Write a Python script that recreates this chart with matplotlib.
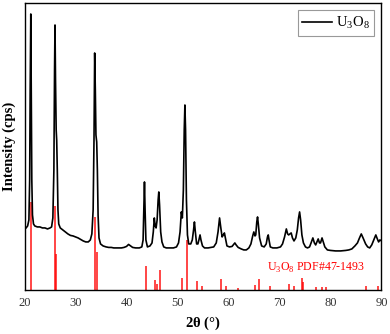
import matplotlib
matplotlib.use('Agg')
import matplotlib.pyplot as plt

# *********************************************
# Data
# *********************************************
two_theta = [20.0, 20.3, 20.6, 20.85, 21.0, 21.1, 21.22, 21.32, 21.42, 21.55, 21.75,
             22.0, 22.5, 23.0, 23.5, 24.0, 24.5, 25.0, 25.3, 25.55, 25.75, 25.88, 25.97,
             26.07, 26.2, 26.3, 26.42, 26.55, 26.7, 27.0, 27.5, 28.0, 28.5, 29.0, 29.5,
             30.0, 30.5, 31.0, 31.5, 32.0, 32.5, 32.9, 33.2, 33.45, 33.62, 33.75, 33.88,
             34.0, 34.15, 34.28, 34.42, 34.6, 34.9, 35.4, 36.0, 36.5, 37.0, 37.5, 38.0,
             38.5, 39.0, 39.5, 40.0, 40.4, 40.8, 41.2, 41.8, 42.5, 43.0, 43.25, 43.4,
             43.52, 43.64, 43.8, 44.1, 44.6, 45.0, 45.25, 45.45, 45.62, 45.8, 46.0, 46.2,
             46.33, 46.48, 46.7, 46.95, 47.3, 47.8, 48.5, 49.2, 49.8, 50.2, 50.5, 50.75,
             50.95, 51.15, 51.32, 51.45, 51.58, 51.75, 51.95, 52.2, 52.6, 52.9, 53.15,
             53.32, 53.5, 53.75, 54.0, 54.2, 54.42, 54.6, 54.9, 55.3, 56.0, 56.6, 57.1,
             57.6, 57.95, 58.25, 58.5, 58.75, 59.0, 59.2, 59.4, 59.7, 60.2, 60.7, 61.0,
             61.25, 61.5, 61.9, 62.5, 63.0, 63.5, 64.0, 64.4, 64.75, 64.97, 65.2, 65.35,
             65.55, 65.7, 65.85, 66.1, 66.5, 67.0, 67.4, 67.65, 67.8, 67.95, 68.2, 68.7,
             69.5, 70.2, 70.6, 71.0, 71.35, 71.6, 71.8, 72.05, 72.3, 72.55, 72.85, 73.2,
             73.5, 73.75, 73.95, 74.15, 74.4, 74.7, 75.1, 75.5, 75.9, 76.2, 76.55, 76.85,
             77.1, 77.35, 77.6, 77.85, 78.05, 78.35, 78.6, 78.9, 79.4, 80.0, 81.0, 82.0,
             83.0, 83.6, 84.2, 84.8, 85.3, 85.7, 86.05, 86.4, 86.9, 87.3, 87.7, 88.1,
             88.5, 88.9, 89.2, 89.45, 89.7, 90.0]
intensity = [61, 62, 64, 70, 110, 200, 276, 200, 110, 75, 66,
             64, 63, 63, 62, 62, 61, 62, 63, 72, 120, 220, 265,
             210, 160, 150, 120, 80, 66, 62, 60, 58, 56, 54.5, 54,
             53, 52, 50.5, 49, 48, 48, 50, 56, 80, 150, 237, 200,
             155, 148, 120, 75, 52, 46, 44, 43, 42.5, 42.5, 42, 42,
             42, 42, 42.5, 43.5, 45.5, 44, 42.5, 42, 42, 43, 50, 80,
             108, 80, 50, 43, 44, 47, 58, 72, 64, 62, 70, 90,
             98, 85, 58, 48, 43, 42, 42, 42, 43, 47, 58, 78,
             72, 100, 160, 185, 160, 90, 55, 46, 46, 50, 60,
             68, 58, 46, 46, 50, 55, 50, 44, 42, 42, 42.5, 43,
             47, 58, 72, 62, 53, 55, 57, 52, 44, 43, 43.5, 45.5,
             47, 45, 42.5, 41, 40, 40, 42, 46, 54, 58, 54, 55,
             68, 73, 66, 52, 44, 43, 46, 53, 55, 50, 43, 42,
             42, 43, 46, 53, 61, 56, 55, 56, 57, 52, 49, 52,
             60, 72, 78, 70, 55, 47, 43, 42, 43, 47, 52, 47,
             45, 48, 51, 47, 47, 52, 48, 43, 40, 39.5, 39, 39,
             39.5, 40, 41, 44, 47, 52, 56, 52, 46, 43, 42, 45,
             50, 55, 51, 48, 50, 49]

# U3O8 PDF#47-1493 reference lines
pdf_pos = [21.2, 25.95, 26.15, 33.9, 34.2, 43.75, 45.6, 45.95, 46.6, 50.95, 51.8,
           53.8, 54.8, 58.5, 59.6, 61.9, 65.2, 66.0, 68.2, 71.8, 72.9, 74.4, 74.6,
           77.2, 78.4, 79.2, 86.9, 89.3]
pdf_int = [88, 84, 36, 73, 38, 24, 10, 6, 20, 12, 50,
           9, 4, 11, 4, 2, 5, 11, 4, 6, 3.5, 12, 8,
           3, 3, 3, 4, 4]

xticks = [20, 30, 40, 50, 60, 70, 80, 90]


# *********************************************
# Plot
# *********************************************
plt.rcParams['font.family'] = ['Liberation Serif', 'DejaVu Serif']
plt.rcParams['mathtext.fontset'] = 'custom'
plt.rcParams['mathtext.rm'] = 'Liberation Serif'
plt.rcParams['mathtext.bf'] = 'Liberation Serif:bold'

fig = plt.figure(figsize=(3.9, 3.34), dpi=100)
ax = fig.add_axes([0.063, 0.132, 0.915, 0.859])

ax.vlines(pdf_pos, 0, pdf_int, colors='#ff0000', linewidth=1.2, alpha=0.85)
ax.plot(two_theta, intensity, color='black', linewidth=1.2, label=r'U$_3$O$_8$')

ax.text(67.6, 19.5, r'U$_3$O$_8$ PDF#47-1493', color='#ff0000', fontsize=8.6,
        ha='left', va='baseline')

ax.set_xlim(20, 90)
ax.set_ylim(0, 287)
ax.set_xticks(xticks)
ax.set_yticks([])
ax.tick_params(axis='x', length=0, pad=5, labelsize=9, labelcolor='#333333')

ax.set_xlabel(r'2$\mathbf{\theta}$ (°)', fontsize=10.5, fontweight='bold', labelpad=4)
ax.set_ylabel('Intensity (cps)', fontsize=10.5, fontweight='bold', labelpad=6)

for s in ax.spines.values():
    s.set_linewidth(1.0)
    s.set_color('black')

leg = ax.legend(loc='upper right', fontsize=10.5, fancybox=False, framealpha=1,
                edgecolor='#999999', handlelength=2.0, handletextpad=0.3,
                borderpad=0.3, borderaxespad=0.5)
leg.get_frame().set_linewidth(0.8)

plt.savefig('out.png', dpi=100)
